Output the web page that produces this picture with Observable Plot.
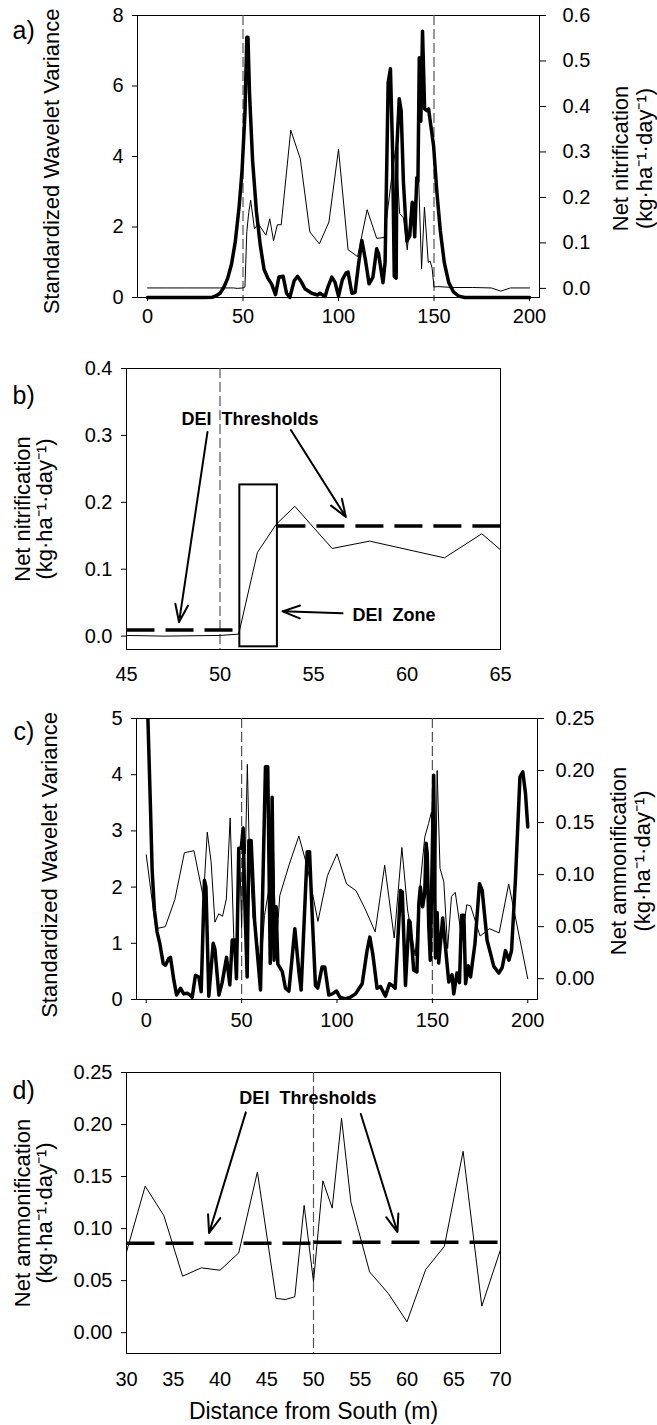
<!DOCTYPE html>
<html><head><meta charset="utf-8">
<script src="https://cdn.jsdelivr.net/npm/d3@7"></script>
<script src="https://cdn.jsdelivr.net/npm/@observablehq/plot@0.6"></script>
<style>
body{margin:0;background:#fff;}
#chart{position:relative;width:657px;height:1425px;overflow:hidden;background:#fff;}
</style></head><body><div id="chart"></div>
<script>
// ---------- Data ----------
// Panel a/b: net nitrification (thin line, right axis in a)
const nitDist = [0,10,20,30,40,45,47,50,51,52,53,54,56,58,62,64,66,68,70,75,80,85,90,95,100,105,110,115,120,124,128,130,132,134,136,138,140,142,143.5,145,147,148,149,150,152,160,170,180,185,190,200];
const nitVal  = [0.001,0.001,0.001,0.001,0.001,0.001,0.000,0.001,0.003,0.125,0.167,0.194,0.131,0.142,0.117,0.153,0.105,0.140,0.140,0.348,0.285,0.124,0.098,0.146,0.306,0.085,0.070,0.173,0.110,0.112,0.250,0.310,0.165,0.155,0.085,0.175,0.190,0.235,0.043,0.179,0.057,0.060,0.045,0.003,0.004,0.002,0.002,0.001,-0.006,0.001,0.001];
// Panel a: standardized wavelet variance (thick line)
const wvDistA = [0,10,20,30,34,36,38,40,42,44,46,48,49.5,51,52,52.6,53.4,55,57,59,61,63,65,67,68.8,71,72.8,74.5,76.8,78.6,80.7,82.4,86,89,90.3,93,94.4,96.5,98.2,100,102,104,105,107,108.7,110.4,112.2,114,116,118,120,121,123.3,124.4,126,127.2,128.3,129.2,130.2,130.6,131.8,132.8,134,135.8,137.3,138.6,139.2,139.9,141,141.6,142.3,143.1,144,145.1,146.3,147.2,148.1,149.8,151.5,153.3,155.4,157.7,160.3,163,166,170,180,190,200];
const wvValA  = [0,0,0,0,0.01,0.05,0.12,0.29,0.55,0.95,1.6,2.6,3.6,5.2,7.38,7.38,5.8,3.9,2.45,1.5,0.8,0.55,0.38,0.08,0.58,0.6,0.12,0.0,0.48,0.6,0.43,0.25,0.12,0.07,0.12,0.03,0.29,0.58,0.43,0.04,0.5,0.7,0.72,0.12,0.15,0.9,1.62,1.1,0.39,0.57,1.38,1.24,0.42,1.0,6.1,6.49,4.2,0.6,0.55,4.3,5.64,5.3,3.27,1.6,1.75,2.7,2.5,1.72,3.4,3.3,6.8,5.0,7.55,5.35,5.3,5.35,4.97,4.3,3.0,1.9,0.99,0.43,0.15,0.04,0.0,0,0,0,0];
// Panel c/d: net ammonification (thin line, right axis in c)
const ammDist = [0,5,10,15,20,25,30,32,34,36,38,40,42,44,46,47,48,49,50,51,52,53,54,56,58,60,62,64,66,68,70,75,80,84.5,90,95,100,105,110,115,120,125,130,134,137,141,143,146,148,149.5,150.5,151.5,152.5,154,156,158,160,162,165.5,168,170,175,180,185,190,200];
const ammVal  = [0.119,0.048,0.050,0.076,0.121,0.123,0.0776,0.1408,0.1124,0.0543,0.0623,0.060,0.0766,0.1545,0.0329,0.0319,0.0345,0.1223,0.0489,0.1459,0.1197,0.2059,0.1255,0.0584,0.0377,0.0105,0.0607,0.083,0.1743,0.0255,0.0798,0.110,0.137,0.107,0.055,0.099,0.120,0.091,0.0845,0.066,0.045,0.109,0.039,0.126,0.066,0.022,0.079,0.136,0.149,0.160,0.100,0.050,0.200,0.106,0.093,0.029,0.079,0.083,0.037,0.071,0.070,0.041,0.048,0.044,0.091,0.000];
// Panel c: standardized wavelet variance (thick line)
const wvDistC = [0,0.85,2.26,3.1,4.3,5.7,7.1,8.9,10.1,11.8,12.7,14.5,15.9,18,19.7,21.5,22.9,24.1,25.8,27.6,28.8,30.5,31.3,32.8,35.1,36,38.1,39.8,42.1,43.8,45.1,46.3,47.3,48.5,49.8,50.8,51.7,52.9,53.8,55,56.8,59.9,62.5,63.7,65,66,67,68.1,69,71.3,73,74.8,77.9,80,81.2,84.4,85.6,87,88.7,89.9,92.2,93.6,95.7,97.5,99.8,101.5,104.4,107,109.7,113.2,115.8,117.2,118.8,121,122.8,125.4,127.5,129.3,130.5,133.3,134.2,135.9,137.7,138.3,140.2,141.9,142.9,143.7,144.9,146,146.7,147.3,148.1,148.9,150.7,151.6,152.5,153.3,155.4,158.6,160.3,161.2,162.9,164.2,165.3,166.5,167.4,168.8,170,172.3,174.7,176.1,178.7,182.2,184.8,186.6,188.3,190.1,191.5,193.6,195.9,197.4,198.8,200];
const wvValC  = [7,5.03,3.37,2.3,1.59,1.2,1.0,0.64,0.61,0.73,0.75,0.34,0.08,0.2,0.1,0.11,0.08,0.04,0.43,0.4,0.14,2.12,2.0,0.06,1.0,0.9,0.08,0.3,0.75,0.26,1.06,1.06,0.37,2.69,2.69,3.05,1.7,0.4,2.83,2.83,1.4,0.17,4.14,4.14,0.64,3.6,0.7,1.65,0.63,0.5,0.2,0.15,1.26,0.5,0.17,2.63,2.63,1.5,0.25,0.2,0.58,0.58,0.08,0.1,0.15,0.04,0.01,0.04,0.1,0.28,0.88,1.11,0.8,0.2,0.23,0.06,0.28,0.24,0.2,1.94,1.92,0.25,1.41,1.38,0.52,0.49,1.71,2.0,1.65,1.9,2.78,2.6,1.3,0.7,3.99,0.74,1.55,0.65,1.45,0.31,0.44,0.1,0.47,0.3,1.5,1.5,0.28,0.6,0.4,0.99,2.06,1.94,1.05,0.59,0.47,0.57,0.87,0.7,0.87,2.18,3.96,4.05,3.67,3.07];

// Reference (dashed) distances
const refLinesAC = [50, 150];
const refLinesBD = [50];

// Tick values
const xTicksAC = [0, 50, 100, 150, 200];
const yTicksA = [0, 2, 4, 6, 8];
const rTicksA = [0, 0.1, 0.2, 0.3, 0.4, 0.5, 0.6];
const xTicksB = [45, 50, 55, 60, 65];
const yTicksB = [0, 0.1, 0.2, 0.3, 0.4];
const yTicksC = [0, 1, 2, 3, 4, 5];
const rTicksC = [0, 0.05, 0.10, 0.15, 0.20, 0.25];
const xTicksD = [30, 35, 40, 45, 50, 55, 60, 65, 70];
const yTicksD = [0, 0.05, 0.10, 0.15, 0.20, 0.25];

// DEI annotations (data units)
const thrB = [{x1: 45, x2: 51.06, y: 0.009}, {x1: 53.07, x2: 65, y: 0.1645}];
const zoneB = [{x1: 51.06, x2: 53.07, y1: -0.016, y2: 0.226}];
const labelsB = [{x: 51.6, y: 0.324, text: "DEI\u00A0\u00A0Thresholds"}, {x: 59.3, y: 0.031, text: "DEI\u00A0\u00A0Zone"}];
const arrowsB = [
  {x1: 49.33, y1: 0.305, x2: 47.81, y2: 0.021},
  {x1: 53.79, y1: 0.308, x2: 56.73, y2: 0.178},
  {x1: 56.55, y1: 0.034, x2: 53.34, y2: 0.037}
];
const thrD = [{x1: 30, x2: 50, y: 0.086}, {x1: 50, x2: 70, y: 0.087}];
const labelsD = [{x: 49.4, y: 0.225, text: "DEI\u00A0\u00A0Thresholds"}];
const arrowsD = [
  {x1: 42.76, y1: 0.2117, x2: 38.83, y2: 0.0958},
  {x1: 55.06, y1: 0.2101, x2: 58.98, y2: 0.0967}
];

// Text
const unitText = "(kg\u00B7ha\u207B\u00B9\u00B7day\u207B\u00B9)";
const titleWV = "Standardized Wavelet Variance";
const titleNit = "Net nitrification\n" + unitText;
const titleAmm = "Net ammonification\n" + unitText;
const titleX = "Distance from South (m)";

// ---------- Helpers ----------
const FONT = '"Liberation Sans", Arial, Helvetica, sans-serif';
const mapR = (r, rd, ld) => ld[0] + (r - rd[0]) / (rd[1] - rd[0]) * (ld[1] - ld[0]);
const unmapR = (v, rd, ld) => rd[0] + (v - ld[0]) / (ld[1] - ld[0]) * (rd[1] - rd[0]);
const clean = v => Math.round(v * 10000) / 10000 + 0;
const rows = (xs, ys) => xs.map((x, i) => ({x, y: ys[i]}));
const baseStyle = {fontFamily: FONT, fontSize: "20px", color: "#000", overflow: "visible", background: "none"};
const fmt0 = d => String(d), fmt1 = d => d.toFixed(1), fmt2 = d => d.toFixed(2);

const chart = document.getElementById("chart");
function place(svg, top) {
  svg.style.position = "absolute";
  svg.style.left = "0px";
  svg.style.top = top + "px";
  chart.appendChild(svg);
}
const dashRef = {stroke: "#555", strokeWidth: 1.2, strokeDasharray: "10,4"};
const dashThr = {stroke: "#000", strokeWidth: 3.5, strokeDasharray: "28,11"};
const rotTitle = {rotate: -90, fontSize: 22, textAnchor: "middle", lineAnchor: "middle"};

// ---------- Panel a ----------
const aY = [0, 8], aR = [-0.02, 0.6];
const plotA = Plot.plot({
  width: 657, height: 335, marginTop: 15, marginBottom: 38, marginLeft: 137, marginRight: 118,
  style: baseStyle,
  x: {domain: [-5.25, 205.25]},
  y: {domain: aY},
  marks: [
    Plot.frame({stroke: "#000", strokeWidth: 1}),
    Plot.ruleX(refLinesAC, dashRef),
    Plot.line(rows(nitDist, nitVal.map(r => mapR(r, aR, aY))), {x: "x", y: "y", stroke: "#000", strokeWidth: 1}),
    Plot.line(rows(wvDistA, wvValA), {x: "x", y: "y", stroke: "#000", strokeWidth: 3.5, strokeLinejoin: "round"}),
    Plot.axisX(xTicksAC, {tickSize: 4, tickPadding: 7, fontSize: 20, label: null, tickFormat: fmt0}),
    Plot.axisY(yTicksA, {anchor: "left", tickSize: 5, tickPadding: 9, fontSize: 20, label: null, tickFormat: fmt0}),
    Plot.axisY(rTicksA.map(r => mapR(r, aR, aY)), {anchor: "right", tickSize: 6, tickPadding: 17, fontSize: 20, label: null, tickFormat: v => clean(unmapR(v, aR, aY)).toFixed(1)}),
    Plot.text(["a)"], {text: d => d, frameAnchor: "top-left", dx: -125, dy: 15, fontSize: 25, textAnchor: "start", lineAnchor: "middle"}),
    Plot.text([titleWV], {text: d => d, frameAnchor: "left", dx: -86, dy: 5, ...rotTitle}),
    Plot.text([titleNit], {text: d => d, frameAnchor: "right", dx: 93, dy: 2, lineHeight: 1.1, ...rotTitle})
  ]
});
place(plotA, 0);

// ---------- Panel b ----------
const plotB = Plot.plot({
  width: 657, height: 360, marginTop: 38, marginBottom: 41, marginLeft: 126, marginRight: 157,
  style: baseStyle,
  x: {domain: [45, 65]},
  y: {domain: [-0.02, 0.4]},
  marks: [
    Plot.frame({stroke: "#000", strokeWidth: 1}),
    Plot.ruleX(refLinesBD, dashRef),
    Plot.line(rows(nitDist, nitVal).filter(d => d.x >= 44 && d.x <= 67), {x: "x", y: "y", stroke: "#000", strokeWidth: 1, clip: true}),
    Plot.link(thrB, {x1: "x1", x2: "x2", y1: "y", y2: "y", ...dashThr}),
    Plot.rect(zoneB, {x1: "x1", x2: "x2", y1: "y1", y2: "y2", fill: "none", stroke: "#000", strokeWidth: 2}),
    Plot.arrow(arrowsB, {x1: "x1", y1: "y1", x2: "x2", y2: "y2", stroke: "#000", strokeWidth: 2, headLength: 14, headAngle: 40}),
    Plot.text(labelsB, {x: "x", y: "y", text: "text", fontSize: 18, fontWeight: "bold", lineAnchor: "middle"}),
    Plot.axisX(xTicksB, {tickSize: 0, tickPadding: 17, fontSize: 20, label: null, tickFormat: fmt0}),
    Plot.axisY(yTicksB, {anchor: "left", tickSize: 5, tickPadding: 9, fontSize: 20, label: null, tickFormat: fmt1}),
    Plot.text(["b)"], {text: d => d, frameAnchor: "top-left", dx: -114, dy: 27, fontSize: 25, textAnchor: "start", lineAnchor: "middle"}),
    Plot.text([titleNit], {text: d => d, frameAnchor: "left", dx: -93, dy: 0, lineHeight: 1.0, ...rotTitle})
  ]
});
place(plotB, 330);

// ---------- Panel c ----------
const cY = [0, 5], cR = [-0.02, 0.25];
const plotC = Plot.plot({
  width: 657, height: 345, marginTop: 28, marginBottom: 36, marginLeft: 136, marginRight: 120,
  style: baseStyle,
  x: {domain: [-5.1, 205.1]},
  y: {domain: cY},
  marks: [
    Plot.frame({stroke: "#000", strokeWidth: 1}),
    Plot.ruleX(refLinesAC, dashRef),
    Plot.line(rows(ammDist, ammVal.map(r => mapR(r, cR, cY))), {x: "x", y: "y", stroke: "#000", strokeWidth: 1}),
    Plot.line(rows(wvDistC, wvValC), {x: "x", y: "y", stroke: "#000", strokeWidth: 3.5, strokeLinejoin: "round", clip: true}),
    Plot.axisX(xTicksAC, {tickSize: 4, tickPadding: 9, fontSize: 20, label: null, tickFormat: fmt0}),
    Plot.axisY(yTicksC, {anchor: "left", tickSize: 5, tickPadding: 9, fontSize: 20, label: null, tickFormat: fmt0}),
    Plot.axisY(rTicksC.map(r => mapR(r, cR, cY)), {anchor: "right", tickSize: 6, tickPadding: 12, fontSize: 20, label: null, tickFormat: v => clean(unmapR(v, cR, cY)).toFixed(2)}),
    Plot.text(["c)"], {text: d => d, frameAnchor: "top-left", dx: -123, dy: 13, fontSize: 25, textAnchor: "start", lineAnchor: "middle"}),
    Plot.text([titleWV], {text: d => d, frameAnchor: "left", dx: -87, dy: 6, ...rotTitle}),
    Plot.text([titleAmm], {text: d => d, frameAnchor: "right", dx: 93, dy: 2, lineHeight: 1.1, ...rotTitle})
  ]
});
place(plotC, 690);

// ---------- Panel d ----------
const plotD = Plot.plot({
  width: 657, height: 390, marginTop: 37, marginBottom: 72, marginLeft: 126, marginRight: 157,
  style: baseStyle,
  x: {domain: [30, 70]},
  y: {domain: [-0.02, 0.25]},
  marks: [
    Plot.frame({stroke: "#000", strokeWidth: 1}),
    Plot.ruleX(refLinesBD, dashRef),
    Plot.line(rows(ammDist, ammVal).filter(d => d.x >= 29 && d.x <= 71), {x: "x", y: "y", stroke: "#000", strokeWidth: 1, clip: true}),
    Plot.link(thrD, {x1: "x1", x2: "x2", y1: "y", y2: "y", ...dashThr}),
    Plot.arrow(arrowsD, {x1: "x1", y1: "y1", x2: "x2", y2: "y2", stroke: "#000", strokeWidth: 2, headLength: 14, headAngle: 40}),
    Plot.text(labelsD, {x: "x", y: "y", text: "text", fontSize: 18, fontWeight: "bold", lineAnchor: "middle"}),
    Plot.axisX(xTicksD, {tickSize: 0, tickPadding: 18, fontSize: 20, label: null, tickFormat: fmt0}),
    Plot.axisY(yTicksD, {anchor: "left", tickSize: 5, tickPadding: 9, fontSize: 20, label: null, tickFormat: fmt2}),
    Plot.text(["d)"], {text: d => d, frameAnchor: "top-left", dx: -114, dy: 18, fontSize: 25, textAnchor: "start", lineAnchor: "middle"}),
    Plot.text([titleAmm], {text: d => d, frameAnchor: "left", dx: -93, dy: 0, lineHeight: 1.0, ...rotTitle}),
    Plot.text([titleX], {text: d => d, frameAnchor: "bottom", dy: 58, fontSize: 23, textAnchor: "middle", lineAnchor: "middle"})
  ]
});
place(plotD, 1035);
</script></body></html>
